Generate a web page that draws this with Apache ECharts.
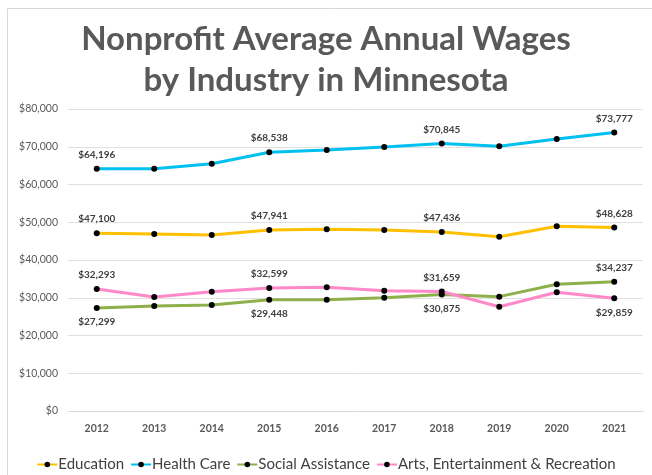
<!DOCTYPE html>
<html><head><meta charset="utf-8">
<script src="https://cdn.jsdelivr.net/npm/echarts@6/dist/echarts.min.js"></script>
<style>html,body{margin:0;padding:0;background:#fff}#c{width:652px;height:475px}</style>
</head><body><div id="c"></div>
<script>
const years = ['2012','2013','2014','2015','2016','2017','2018','2019','2020','2021'];
const education = [47100, 46890, 46620, 47941, 48130, 47950, 47436, 46170, 48920, 48628];
const healthCare = [64196, 64150, 65510, 68538, 69140, 69930, 70845, 70120, 72050, 73777];
const socialAssistance = [27299, 27810, 28080, 29448, 29490, 30020, 30875, 30290, 33560, 34237];
const arts = [32293, 30200, 31610, 32599, 32760, 31870, 31659, 27630, 31440, 29859];
const labelIdx = [0, 3, 6, 9];
const yTicks = { min: 0, max: 80000, interval: 10000 };

const fmt = v => '$' + v.toLocaleString('en-US');
const FONT = 'Lato';

function mkData(arr, posFn) {
  return arr.map((v, i) => {
    if (labelIdx.indexOf(i) < 0) return v;
    return { value: v, label: { show: true, position: posFn(i) } };
  });
}

function series(name, arr, color, posFn) {
  return {
    name, type: 'line', data: mkData(arr, posFn),
    symbol: 'circle', symbolSize: 6,
    itemStyle: { color: '#000' },
    lineStyle: { color: color, width: 3 },
    label: { show: false, formatter: p => fmt(p.value), color: '#404040', fontFamily: FONT, fontWeight: 'bold', fontSize: 10, distance: 6 },
    emphasis: { disabled: true },
    z: 2
  };
}

const chart = echarts.init(document.getElementById('c'));
chart.setOption({
  animation: false,
  title: {
    text: 'Nonprofit Average Annual Wages\nby Industry in Minnesota',
    left: 'center', top: 14, padding: [5, 0, 5, 14],
    textStyle: { fontFamily: FONT, fontWeight: 'bold', fontSize: 33, color: '#595959', lineHeight: 41 }
  },
  graphic: [{
    type: 'rect', shape: { x: 7.5, y: 8.5, width: 700, height: 500 },
    style: { fill: 'none', stroke: '#d9d9d9', lineWidth: 1 }, silent: true, z: -1
  }],
  legend: {
    left: 'center', top: 452, itemGap: 6, itemWidth: 20, itemHeight: 7,
    padding: [5, 0, 5, 14],
    textStyle: { fontFamily: FONT, fontSize: 15, color: '#404040', padding: [0, 0, 0, -4] },
    data: ['Education', 'Health Care', 'Social Assistance', 'Arts, Entertainment & Recreation']
  },
  grid: { left: 68, right: 9, top: 109, bottom: 64 },
  xAxis: {
    type: 'category', data: years, boundaryGap: true,
    axisLine: { lineStyle: { color: '#d9d9d9' } }, axisTick: { show: false },
    axisLabel: { color: '#595959', fontFamily: FONT, fontSize: 10.5, fontWeight: 'bold', margin: 12 }
  },
  yAxis: {
    type: 'value', min: yTicks.min, max: yTicks.max, interval: yTicks.interval,
    axisLine: { show: false }, axisTick: { show: false },
    splitLine: { lineStyle: { color: '#e0e0e0' } },
    axisLabel: { color: '#595959', fontFamily: FONT, fontSize: 10.5, margin: 10, formatter: v => fmt(v) }
  },
  series: [
    series('Education', education, '#ffc000', () => 'top'),
    series('Health Care', healthCare, '#00c0f0', () => 'top'),
    series('Social Assistance', socialAssistance, '#8db04a', i => i === 9 ? 'top' : 'bottom'),
    series('Arts, Entertainment & Recreation', arts, '#ff88c8', i => i === 9 ? 'bottom' : 'top')
  ]
});
</script></body></html>
